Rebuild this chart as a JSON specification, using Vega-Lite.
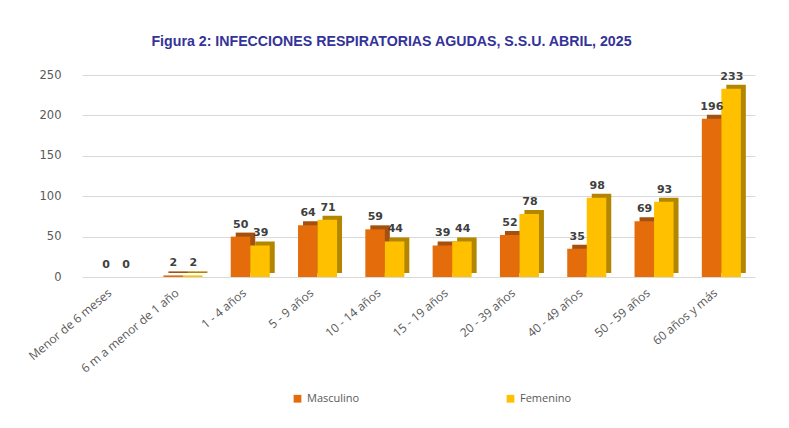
{
  "$schema": "https://vega.github.io/schema/vega-lite/v6.json",
  "autosize": {"type": "none"},
  "width": 673,
  "height": 202,
  "padding": {"left": 82, "top": 75, "right": 34, "bottom": 151},
  "background": "white",
  "title": {
    "text": "Figura 2: INFECCIONES RESPIRATORIAS AGUDAS, S.S.U. ABRIL, 2025",
    "font": "Liberation Sans",
    "fontSize": 14.2,
    "fontWeight": "bold",
    "color": "#33339A",
    "anchor": "middle",
    "dx": -27,
    "offset": 20
  },
  "data": {
    "values": [
      {"grupo": "Menor de 6 meses", "sexo": "Masculino", "valor": 0},
      {"grupo": "Menor de 6 meses", "sexo": "Femenino", "valor": 0},
      {"grupo": "6 m a menor de 1 año", "sexo": "Masculino", "valor": 2},
      {"grupo": "6 m a menor de 1 año", "sexo": "Femenino", "valor": 2},
      {"grupo": "1 - 4 años", "sexo": "Masculino", "valor": 50},
      {"grupo": "1 - 4 años", "sexo": "Femenino", "valor": 39},
      {"grupo": "5 - 9 años", "sexo": "Masculino", "valor": 64},
      {"grupo": "5 - 9 años", "sexo": "Femenino", "valor": 71},
      {"grupo": "10 - 14 años", "sexo": "Masculino", "valor": 59},
      {"grupo": "10 - 14 años", "sexo": "Femenino", "valor": 44},
      {"grupo": "15 - 19 años", "sexo": "Masculino", "valor": 39},
      {"grupo": "15 - 19 años", "sexo": "Femenino", "valor": 44},
      {"grupo": "20 - 39 años", "sexo": "Masculino", "valor": 52},
      {"grupo": "20 - 39 años", "sexo": "Femenino", "valor": 78},
      {"grupo": "40 - 49 años", "sexo": "Masculino", "valor": 35},
      {"grupo": "40 - 49 años", "sexo": "Femenino", "valor": 98},
      {"grupo": "50 - 59 años", "sexo": "Masculino", "valor": 69},
      {"grupo": "50 - 59 años", "sexo": "Femenino", "valor": 93},
      {"grupo": "60 años y más", "sexo": "Masculino", "valor": 196},
      {"grupo": "60 años y más", "sexo": "Femenino", "valor": 233}
    ]
  },
  "encoding": {
    "x": {
      "field": "grupo",
      "type": "nominal",
      "sort": null,
      "title": null,
      "scale": {"paddingInner": 0.42, "paddingOuter": 0.21},
      "axis": {
        "labelAngle": -40,
        "labelFont": "Open Sans",
        "labelFontSize": 12,
        "labelColor": "#595959",
        "labelPadding": 10,
        "labelOffset": -9,
        "domain": false,
        "ticks": false,
        "labelLimit": 200
      }
    },
    "y": {
      "field": "valor",
      "type": "quantitative",
      "title": null,
      "scale": {"domain": [0, 250]},
      "axis": {
        "values": [0, 50, 100, 150, 200, 250],
        "labelFont": "DejaVu Sans",
        "labelFontSize": 11.5,
        "labelColor": "#595959",
        "labelPadding": 21,
        "domain": false,
        "ticks": false,
        "gridColor": "#D9D9D9",
        "gridWidth": 1.2
      }
    }
  },
  "layer": [
    {
      "mark": {"type": "bar", "yOffset": -4, "y2Offset": 0},
      "encoding": {
        "xOffset": {"field": "sexo", "type": "nominal", "sort": ["Masculino", "Femenino"], "scale": {"range": [5, 44], "paddingInner": 0, "paddingOuter": 0}},
        "color": {
          "field": "sexo",
          "type": "nominal",
          "scale": {"domain": ["Masculino", "Femenino"], "range": ["#A4500F", "#B38600"]},
          "legend": null
        }
      }
    },
    {
      "mark": {"type": "bar"},
      "encoding": {
        "xOffset": {"field": "sexo", "type": "nominal", "sort": ["Masculino", "Femenino"], "scale": {"paddingInner": 0, "paddingOuter": 0}},
        "color": {
          "field": "sexo",
          "type": "nominal",
          "scale": {"domain": ["Masculino", "Femenino"], "range": ["#E46C0A", "#FFC000"]},
          "legend": {
            "title": null,
            "orient": "none",
            "legendX": 210,
            "legendY": 318,
            "direction": "horizontal",
            "symbolType": "square",
            "symbolSize": 60,
            "symbolStrokeWidth": 0,
            "labelFont": "Open Sans",
            "labelFontSize": 11,
            "labelColor": "#595959",
            "columnPadding": 145,
            "labelOffset": 4
          }
        }
      }
    },
    {
      "mark": {"type": "text", "dy": -12, "font": "DejaVu Sans", "fontSize": 11, "fontWeight": "bold", "color": "#404040"},
      "encoding": {
        "xOffset": {"field": "sexo", "type": "nominal", "sort": ["Masculino", "Femenino"], "scale": {"type": "point", "range": [10, 30], "padding": 0}},
        "text": {"field": "valor", "type": "quantitative"}
      }
    }
  ],
  "resolve": {"scale": {"color": "independent", "xOffset": "independent"}},
  "config": {"view": {"stroke": null}}
}
